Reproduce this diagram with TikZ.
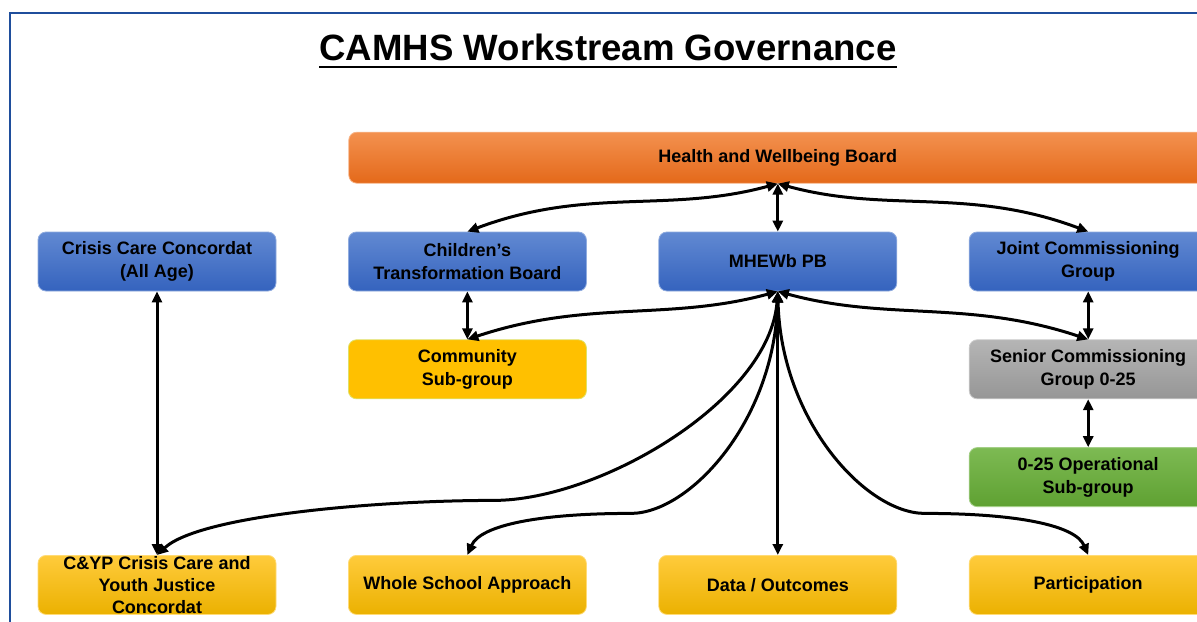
\documentclass[tikz,border=0pt]{standalone}
\usepackage{fontspec}
\setmainfont{Liberation Sans}
\usetikzlibrary{arrows.meta,positioning}

\definecolor{frameblue}{HTML}{1F4E9C}
\definecolor{blueTop}{HTML}{6189D2}
\definecolor{blueBot}{HTML}{3563BE}
\definecolor{orangeTop}{HTML}{F3914F}
\definecolor{orangeBot}{HTML}{E4691A}
\definecolor{ambFill}{HTML}{FFC000}
\definecolor{yellowTop}{HTML}{FFCB3C}
\definecolor{yellowBot}{HTML}{EBB100}
\definecolor{greyTop}{HTML}{B5B5B5}
\definecolor{greyBot}{HTML}{969696}
\definecolor{greenTop}{HTML}{7DBA53}
\definecolor{greenBot}{HTML}{5FA132}

\begin{document}
\begin{tikzpicture}[x=0.5pt, y=-0.5pt, node distance=24pt and 35.8pt,
  every node/.style={font=\bfseries\fontsize{9}{11.5}\selectfont},
  box/.style={draw, rounded corners=4pt, minimum width=119pt, minimum height=29.5pt,
    align=center, inner sep=1pt, line width=0.4pt},
  bluebox/.style={box, top color=blueTop, bottom color=blueBot, draw=blueTop!70!white},
  ambbox/.style={box, fill=ambFill, draw=ambFill!80!green!60!white},
  yellowbox/.style={box, top color=yellowTop, bottom color=yellowBot, draw=yellowTop!70!white},
  greybox/.style={box, top color=greyTop, bottom color=greyBot, draw=greyTop!70!white},
  greenbox/.style={box, top color=greenTop, bottom color=greenBot, draw=greenTop!70!white},
  link/.style={{Triangle[length=5.5pt,width=5pt]}-{Triangle[length=5.5pt,width=5pt]}, line width=1.5pt}]

  \useasboundingbox (0,0) rectangle (1197,621);
  \clip (0,0) rectangle (1197,621);
  \fill[white] (0,0) rectangle (1197,621);
  \draw[frameblue, line width=1pt] (10,13) rectangle (1230,660);

  % title
  \node[font=\bfseries\fontsize{18.3}{22}\selectfont, anchor=base, inner sep=0pt] (title) at (608,60) {CAMHS Workstream Governance};
  \draw[line width=1.4pt] ([yshift=-3.5pt]title.base west) -- ([yshift=-3.5pt]title.base east);

  % boards
  \node[bluebox] (crisis) at (157,261.5) {Crisis Care Concordat\\(All Age)};
  \node[bluebox, right=of crisis] (ctb) {Children’s\\Transformation Board};
  \node[bluebox, right=of ctb] (mhewb) {MHEWb PB};
  \node[bluebox, right=of mhewb] (jcg) {Joint Commissioning\\Group};
  \node[box, top color=orangeTop, bottom color=orangeBot, draw=orangeTop!70!white,
    minimum width=429pt, minimum height=25.5pt, above=of mhewb] (hwb) {Health and Wellbeing Board};

  % sub-groups
  \node[ambbox, below=of ctb] (comm) {Community\\Sub-group};
  \node[greybox, below=of jcg] (scg) {Senior Commissioning\\Group 0-25};
  \node[greenbox, below=of scg] (ops) {0-25 Operational\\Sub-group};

  % workstreams
  \node[yellowbox, below=of ops] (part) {Participation};
  \node[yellowbox, left=of part] (data) {Data / Outcomes};
  \node[yellowbox, left=of data] (wsa) {Whole School Approach};
  \node[yellowbox, left=of wsa, inner ysep=0pt, font=\bfseries\fontsize{9}{11}\selectfont] (cyp) {C\&YP Crisis Care and\\Youth Justice\\Concordat};

  % links from the board
  \draw[link] (hwb.south) .. controls +(-110,30) and +(120,-45) .. (ctb.north);
  \draw[link] (hwb.south) -- (mhewb.north);
  \draw[link] (hwb.south) .. controls +(110,30) and +(-120,-45) .. (jcg.north);

  % links from MHEWb PB
  \draw[link] (mhewb.south) .. controls +(-110,30) and +(120,-40) .. (comm.north);
  \draw[link] (mhewb.south) .. controls +(110,30) and +(-120,-40) .. (scg.north);
  \draw[link] (mhewb.south) .. controls +(-8,109) and +(106,0) .. +(-284,209)
    .. controls +(-114,0) and +(43,-40) .. (cyp.north);
  \draw[link] (mhewb.south) .. controls +(-3,129) and +(59,0) .. +(-147,222)
    .. controls +(-91,0) and +(13,-30) .. (wsa.north);
  \draw[link] (mhewb.south) -- (data.north);
  \draw[link] (mhewb.south) .. controls +(3,129) and +(-59,0) .. +(147,222)
    .. controls +(91,0) and +(-13,-30) .. (part.north);

  % straight links
  \draw[link] (ctb.south) -- (comm.north);
  \draw[link] (jcg.south) -- (scg.north);
  \draw[link] (scg.south) -- (ops.north);
  \draw[link] (crisis.south) -- (cyp.north);
\end{tikzpicture}
\end{document}
